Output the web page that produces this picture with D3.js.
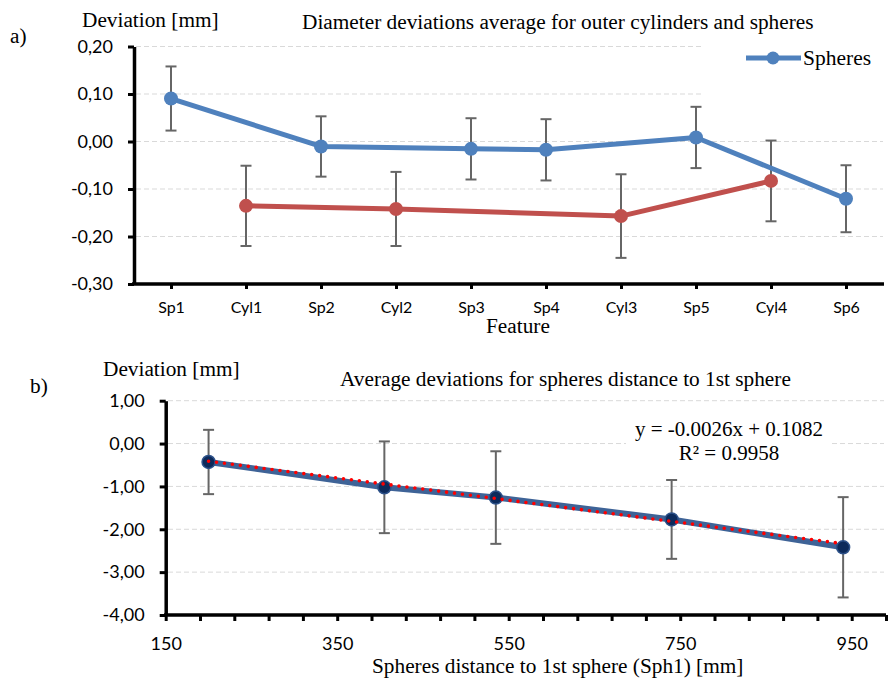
<!DOCTYPE html>
<html>
<head>
<meta charset="utf-8">
<script src="https://cdn.jsdelivr.net/npm/d3@7/dist/d3.min.js"></script>
<style>
  body { margin: 0; background: #fff; }
  svg { display: block; }
</style>
</head>
<body>
<svg id="chart" width="888" height="679"></svg>
<script>
// ---------- Data: chart a ----------
const features = ["Sp1", "Cyl1", "Sp2", "Cyl2", "Sp3", "Sp4", "Cyl3", "Sp5", "Cyl4", "Sp6"];
const spheresDev = [0.0905, null, -0.0105, null, -0.0155, -0.0175, null, 0.0085, null, -0.1205];
const spheresErr = [0.0675, null, 0.0635, null, 0.0645, 0.0645, null, 0.0645, null, 0.0705];
const cylindersDev = [null, -0.1355, null, -0.142, null, null, -0.157, null, -0.083, null];
const cylindersErr = [null, 0.0845, null, 0.078, null, null, 0.088, null, 0.085, null];
const yTicksA = [-0.30, -0.20, -0.10, 0.00, 0.10, 0.20];

// ---------- Data: chart b ----------
const sphereDistance = [200, 405, 535, 740, 940];
const distanceDev = [-0.43, -1.02, -1.26, -1.77, -2.42];
const distanceErr = [0.75, 1.07, 1.08, 0.92, 1.17];
const yTicksB = [-4, -3, -2, -1, 0, 1];
const xLabelTicksB = [150, 350, 550, 750, 950];
const xMinorTicksB = d3.range(150, 991, 40);
const trendSlope = -0.0026;
const trendIntercept = 0.1082;
const trendText = ["y = -0.0026x + 0.1082", "R² = 0.9958"];

const svg = d3.select("#chart");
const SERIF = "'Liberation Serif', 'Times New Roman', serif";
const SANS = "Lato, Calibri, 'Open Sans', sans-serif";
const fmt = d => d.toFixed(2).replace(".", ",");
const TS = 21.3;

function styleAxis(g, fontSize) {
  g.select(".domain").attr("stroke", "#000").attr("stroke-width", 3.5);
  g.selectAll(".tick line").attr("stroke", "#000").attr("stroke-width", 3);
  g.selectAll(".tick text").attr("font-family", SANS).attr("font-size", fontSize).attr("fill", "#000");
}

// ================= Chart a =================
const xA = d3.scalePoint().domain(features).range([133.5, 883.5]).padding(0.5);
const yA = d3.scaleLinear().domain([-0.3, 0.2]).range([284, 46.5]);
const gA = svg.append("g");

// gridlines
gA.append("g").selectAll("line").data(yTicksA.filter(d => d > -0.3)).join("line")
  .attr("x1", 136).attr("x2", 883)
  .attr("y1", d => yA(d)).attr("y2", d => yA(d))
  .attr("stroke", "#D9D9D9").attr("stroke-width", 1).attr("stroke-dasharray", "5,3");

// legend background
gA.append("rect").attr("x", 703).attr("y", 38).attr("width", 185).attr("height", 62).attr("fill", "#fff");

function errorBars(g, xs, ys, errs, x, y, color) {
  const pts = xs.map((d, i) => ({ x: d, v: ys[i], e: errs[i] })).filter(p => p.v !== null);
  const eg = g.append("g").attr("stroke", color).attr("stroke-width", 2).attr("fill", "none");
  pts.forEach(p => {
    const cx = x(p.x);
    eg.append("line").attr("x1", cx).attr("x2", cx).attr("y1", y(p.v + p.e)).attr("y2", y(p.v - p.e));
    eg.append("line").attr("x1", cx - 5.5).attr("x2", cx + 5.5).attr("y1", y(p.v + p.e)).attr("y2", y(p.v + p.e));
    eg.append("line").attr("x1", cx - 5.5).attr("x2", cx + 5.5).attr("y1", y(p.v - p.e)).attr("y2", y(p.v - p.e));
  });
}

errorBars(gA, features, spheresDev, spheresErr, xA, yA, "#666666");
errorBars(gA, features, cylindersDev, cylindersErr, xA, yA, "#666666");

function series(g, cats, vals, color) {
  const pts = cats.map((c, i) => ({ c, v: vals[i] })).filter(p => p.v !== null);
  g.append("path").datum(pts)
    .attr("d", d3.line().x(p => xA(p.c)).y(p => yA(p.v)))
    .attr("fill", "none").attr("stroke", color).attr("stroke-width", 5).attr("stroke-linejoin", "round");
  g.append("g").selectAll("circle").data(pts).join("circle")
    .attr("cx", p => xA(p.c)).attr("cy", p => yA(p.v)).attr("r", 7).attr("fill", color);
}
series(gA, features, cylindersDev, "#C0504D");
series(gA, features, spheresDev, "#4F81BD");

// axes
const axYA = gA.append("g").attr("transform", "translate(134,0)")
  .call(d3.axisLeft(yA).tickValues(yTicksA).tickFormat(fmt).tickSize(6).tickSizeOuter(0).tickPadding(15));
styleAxis(axYA, 18);
const axXA = gA.append("g").attr("transform", "translate(0,284)")
  .call(d3.axisBottom(xA).tickSize(5).tickSizeOuter(0).tickPadding(13));
styleAxis(axXA, 16);
axXA.select(".domain").attr("d", "M132,0H884");

// legend
gA.append("line").attr("x1", 746).attr("x2", 801).attr("y1", 58).attr("y2", 58)
  .attr("stroke", "#4F81BD").attr("stroke-width", 5);
gA.append("circle").attr("cx", 773).attr("cy", 58).attr("r", 6.5).attr("fill", "#4F81BD");
gA.append("text").attr("x", 803).attr("y", 65).text("Spheres")
  .attr("font-family", SERIF).attr("font-size", 21.5);

// texts
gA.append("text").attr("x", 82).attr("y", 27).text("Deviation [mm]").attr("font-family", SERIF).attr("font-size", TS);
gA.append("text").attr("x", 302).attr("y", 29).text("Diameter deviations average for outer cylinders and spheres").attr("font-family", SERIF).attr("font-size", TS);
gA.append("text").attr("x", 10).attr("y", 43).text("a)").attr("font-family", SERIF).attr("font-size", TS);
gA.append("text").attr("x", 486).attr("y", 333).text("Feature").attr("font-family", SERIF).attr("font-size", TS);

// ================= Chart b =================
const xB = d3.scaleLinear().domain([150, 990]).range([165.7, 886]);
const yB = d3.scaleLinear().domain([-4, 1]).range([615, 400.7]);
const gB = svg.append("g");

gB.append("g").selectAll("line").data(yTicksB.filter(d => d > -4)).join("line")
  .attr("x1", 168).attr("x2", 884)
  .attr("y1", d => yB(d)).attr("y2", d => yB(d))
  .attr("stroke", "#D9D9D9").attr("stroke-width", 1).attr("stroke-dasharray", "5,3");

// equation label background
gB.append("rect").attr("x", 626).attr("y", 416).attr("width", 206).attr("height", 50).attr("fill", "#fff");

// error bars
(function () {
  const eg = gB.append("g").attr("stroke", "#666666").attr("stroke-width", 2);
  sphereDistance.forEach((d, i) => {
    const cx = xB(d), t = yB(distanceDev[i] + distanceErr[i]), b = yB(distanceDev[i] - distanceErr[i]);
    eg.append("line").attr("x1", cx).attr("x2", cx).attr("y1", t).attr("y2", b);
    eg.append("line").attr("x1", cx - 5.5).attr("x2", cx + 5.5).attr("y1", t).attr("y2", t);
    eg.append("line").attr("x1", cx - 5.5).attr("x2", cx + 5.5).attr("y1", b).attr("y2", b);
  });
})();

gB.append("path").datum(sphereDistance.map((d, i) => [d, distanceDev[i]]))
  .attr("d", d3.line().x(p => xB(p[0])).y(p => yB(p[1])))
  .attr("fill", "none").attr("stroke", "#3E6397").attr("stroke-width", 6).attr("stroke-linejoin", "round");
gB.append("g").selectAll("circle").data(sphereDistance).join("circle")
  .attr("cx", d => xB(d)).attr("cy", (d, i) => yB(distanceDev[i])).attr("r", 6.5)
  .attr("fill", "#0C2A5B").attr("stroke", "#2D5189").attr("stroke-width", 1.5);

// trendline
const xr = d3.extent(sphereDistance);
gB.append("path").datum(xr.map(x => [x, trendSlope * x + trendIntercept]))
  .attr("d", d3.line().x(p => xB(p[0])).y(p => yB(p[1])))
  .attr("fill", "none").attr("stroke", "#FF0000").attr("stroke-width", 3.6)
  .attr("stroke-linecap", "round").attr("stroke-dasharray", "0,8");

const axYB = gB.append("g").attr("transform", "translate(165.7,0)")
  .call(d3.axisLeft(yB).tickValues(yTicksB).tickFormat(fmt).tickSize(6).tickSizeOuter(0).tickPadding(15));
styleAxis(axYB, 18);
const axXB = gB.append("g").attr("transform", "translate(0,615)")
  .call(d3.axisBottom(xB).tickValues(xMinorTicksB)
    .tickFormat(d => xLabelTicksB.includes(d) ? String(d) : "")
    .tickSize(6).tickSizeOuter(0).tickPadding(16));
styleAxis(axXB, 18);
axXB.select(".domain").attr("d", "M164,0H886");

// texts
gB.append("text").attr("x", 103).attr("y", 376).text("Deviation [mm]").attr("font-family", SERIF).attr("font-size", TS);
gB.append("text").attr("x", 340).attr("y", 386).text("Average deviations for spheres distance to 1st sphere").attr("font-family", SERIF).attr("font-size", TS);
gB.append("text").attr("x", 30).attr("y", 393).text("b)").attr("font-family", SERIF).attr("font-size", TS);
gB.append("text").attr("x", 729).attr("y", 436).attr("text-anchor", "middle").text(trendText[0]).attr("font-family", SERIF).attr("font-size", 21);
gB.append("text").attr("x", 729).attr("y", 460).attr("text-anchor", "middle").text(trendText[1]).attr("font-family", SERIF).attr("font-size", 21);
gB.append("text").attr("x", 372).attr("y", 673).text("Spheres distance to 1st sphere (Sph1) [mm]").attr("font-family", SERIF).attr("font-size", TS);
</script>
</body>
</html>
